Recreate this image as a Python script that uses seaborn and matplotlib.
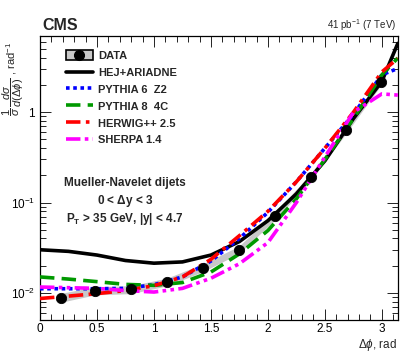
import numpy as np
import pandas as pd
import matplotlib
matplotlib.use("Agg")
import matplotlib.pyplot as plt
import seaborn as sns
from matplotlib.patches import Patch
from matplotlib.lines import Line2D
from matplotlib.legend_handler import HandlerTuple
from matplotlib.ticker import MultipleLocator, LogLocator, NullFormatter

# ---- data ----
data_x = [0.184, 0.486, 0.80, 1.114, 1.427, 1.743, 2.06, 2.374, 2.688, 2.995]
data_y = [0.00887, 0.0106, 0.0109, 0.01325, 0.019, 0.0299, 0.0703, 0.191, 0.637, 2.18]
data_err = [0.0010, 0.0011, 0.0011, 0.0013, 0.0019, 0.0028, 0.0065, 0.017, 0.05, 0.16]

curve_x = [0.0, 0.25, 0.5, 0.75, 1.0, 1.25, 1.5, 1.75, 2.0, 2.25, 2.5, 2.75, 3.0, 3.14]
hej_y = [0.030, 0.0288, 0.0262, 0.0228, 0.0213, 0.0220, 0.0262, 0.037, 0.063, 0.125, 0.29, 0.85, 2.2, 5.8]
py6_y = [0.0111, 0.0111, 0.0111, 0.0112, 0.0123, 0.0150, 0.0225, 0.040, 0.078, 0.17, 0.40, 0.95, 2.6, 3.06]
py8_y = [0.0150, 0.0142, 0.0133, 0.0124, 0.0121, 0.0130, 0.0170, 0.027, 0.049, 0.11, 0.30, 0.85, 2.6, 4.0]
hw_y = [0.00865, 0.0092, 0.0098, 0.0106, 0.0120, 0.0150, 0.0235, 0.043, 0.080, 0.17, 0.40, 1.0, 2.8, 3.95]
sh_y = [0.0116, 0.0114, 0.0112, 0.0106, 0.0102, 0.0112, 0.0145, 0.021, 0.036, 0.10, 0.32, 1.0, 1.6, 1.55]

labels = ["DATA", "HEJ+ARIADNE", "PYTHIA 6  Z2", "PYTHIA 8  4C", "HERWIG++ 2.5", "SHERPA 1.4"]

# ---- style ----
sns.set_theme(style="ticks")
plt.rcParams["font.family"] = ["Liberation Sans", "DejaVu Sans"]
plt.rcParams["mathtext.fontset"] = "custom"
plt.rcParams["mathtext.rm"] = "Liberation Sans"
plt.rcParams["mathtext.it"] = "Liberation Sans:italic"
plt.rcParams["mathtext.bf"] = "Liberation Sans:bold"

fig = plt.figure(figsize=(4.07, 3.56), dpi=100)
ax = fig.add_axes([40 / 407, 1 - 320 / 356, 358 / 407, 284 / 356])

# band
lo = np.array(data_y) - np.array(data_err)
hi = np.array(data_y) + np.array(data_err)
ax.fill_between(data_x, lo, hi, color="#c8c8c8", lw=0, zorder=1)

series = [
    (hej_y, "black", "-", 2.6),
    (py6_y, "#0000ff", (0, (1, 1)), 2.6),
    (py8_y, "#009900", (0, (4, 2)), 2.6),
    (hw_y, "#ff0000", (0, (4, 1.5, 1, 1.5)), 2.6),
    (sh_y, "#ff00ff", (0, (4, 1.2, 1, 1.2, 1, 1.2)), 2.6),
]
handles = []
for yv, col, ls, lw in series:
    sns.lineplot(x=curve_x, y=yv, color=col, linestyle=ls, lw=lw, ax=ax, zorder=3)
    handles.append(Line2D([], [], color=col, linestyle=ls, lw=lw))

sns.scatterplot(x=data_x, y=data_y, color="black", s=55, edgecolor="black", ax=ax, zorder=5)

ax.set_yscale("log")
ax.set_xlim(0, np.pi)
ax.set_ylim(0.005, 7)

ax.xaxis.set_major_locator(MultipleLocator(0.5))
ax.xaxis.set_minor_locator(MultipleLocator(0.1))
ax.yaxis.set_minor_locator(LogLocator(base=10, subs=np.arange(2, 10), numticks=20))
ax.yaxis.set_minor_formatter(NullFormatter())
ax.set_yticks([0.01, 0.1, 1])
ax.set_yticklabels([r"$10^{-2}$", r"$10^{-1}$", "1"])
ax.set_xticks([0, 0.5, 1, 1.5, 2, 2.5, 3])
ax.set_xticklabels(["0", "0.5", "1", "1.5", "2", "2.5", "3"])
ax.tick_params(which="both", direction="in", top=True, right=True, labelsize=8.5,
               colors="black", width=0.6)
ax.tick_params(axis="x", pad=2)
ax.tick_params(which="major", length=8)
ax.tick_params(which="minor", length=4)
for s in ax.spines.values():
    s.set_linewidth(0.9)
    s.set_color("black")
ax.set_xlabel("")
ax.set_ylabel("")

# legend
data_handle = (Patch(facecolor="#c8c8c8", edgecolor="black", lw=1.2),
               Line2D([], [], marker="o", color="black", ls="", markersize=7))
leg = ax.legend([data_handle] + handles, labels, loc="upper left",
                bbox_to_anchor=(0.045, 0.985), frameon=False,
                handler_map={tuple: HandlerTuple(ndivide=1)},
                handlelength=2.4, handleheight=1.0, handletextpad=0.5, labelspacing=0.55,
                prop={"weight": "bold", "size": 8})

# annotations
ax.text(0.237, 0.483, "Mueller-Navelet dijets", transform=ax.transAxes, ha="center",
        va="center", fontsize=8.5, fontweight="bold")
ax.text(0.237, 0.419, r"0 < $\mathbf{\Delta}$y < 3", transform=ax.transAxes, ha="center",
        va="center", fontsize=8.5, fontweight="bold")
ax.text(0.237, 0.355, r"P$_\mathbf{T}$ > 35 GeV, |y| < 4.7", transform=ax.transAxes,
        ha="center", va="center", fontsize=8.5, fontweight="bold")

fig.text(42 / 407, 1 - 25 / 356, "CMS", fontsize=11.5, fontweight="bold", va="center", ha="left")
fig.text(396 / 407, 1 - 25 / 356, r"41 pb$^{-1}$ (7 TeV)", fontsize=7, va="center", ha="right")

fig.text(397 / 407, 1 - 345 / 356, r"$\Delta\phi$, rad", fontsize=8.5, va="center", ha="right")
fig.text(13 / 407, 1 - 42 / 356, r"$\dfrac{1}{\sigma}\,\dfrac{d\sigma}{d(\Delta\phi)}$ , rad$^{-1}$",
         fontsize=8, rotation=90, va="top", ha="center")

fig.savefig("out.png", dpi=100)
